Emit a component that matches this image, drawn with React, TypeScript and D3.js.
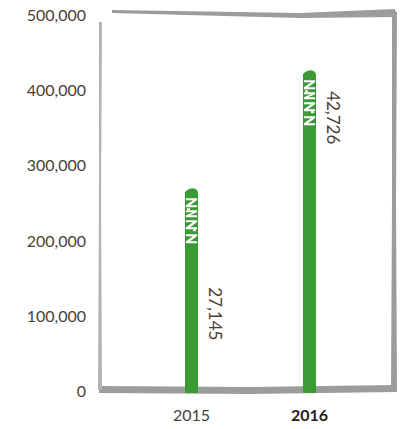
import React from "react";
import * as d3 from "d3";

const years = ["2015", "2016"];
const values = [271000, 428000];
const valueLabels = ["27,145", "42,726"];
const yTicks = [0, 100000, 200000, 300000, 400000, 500000];

const W = 403, H = 429;
const y = d3.scaleLinear().domain([0, 500000]).range([393, 17]);
const x = d3.scalePoint().domain(years).range([191.5, 309.5]);
const fmt = d3.format(",");
const barW = 13;
const green = "#3a9a34";
const gray = "#9c9c9c";
const textColor = "#4a4036";

function Pattern({ cx, top }: { cx: number; top: number }) {
  const l = cx - barW / 2 + 1;
  const w = barW - 2;
  const shapes: string[] = [];
  const rows = [9, 21, 31, 45];
  rows.forEach((dy, i) => {
    const yy = top + dy;
    const h = i === 1 ? 7 : 9;
    shapes.push(`M${l},${yy} L${l + w},${yy} L${l + w},${yy + 2} L${l + 4},${yy + h - 2} L${l + w},${yy + h - 2} L${l + w},${yy + h} L${l},${yy + h} L${l},${yy + h - 2} L${l + w - 4},${yy + 2} L${l},${yy + 2}Z`);
  });
  shapes.push(`M${l + 1},${top + 19} L${l + 4},${top + 19} L${l + 4},${top + 21} L${l + 1},${top + 21}Z`);
  shapes.push(`M${l + 7},${top + 40} L${l + 10},${top + 40} L${l + 10},${top + 42} L${l + 7},${top + 42}Z`);
  return <g>{shapes.map((d, i) => <path key={i} d={d} fill="#fff" />)}</g>;
}

export default function App() {
  const font = "Lato, 'Open Sans', sans-serif";
  return (
    <svg width={W} height={H} style={{ display: "block", position: "absolute", left: 0, top: 0 }}>
      {/* rough frame */}
      <path d="M112,10 L300,13 L395,9 L397,17 L300,18 L112,13 Z" fill={gray} />
      <path d="M392,12 L397,12 L396,200 L397,392 L391,392 L392,200 Z" fill={gray} />
      <path d="M99,386 L250,387 L396,385 L396,392 L250,394 L99,393 Z" fill={gray} />
      <path d="M99,22 L102,22 L101,200 L102,390 L98,390 L99,200 Z" fill="#b3b3b3" />
      {yTicks.map((t) => (
        <text key={t} x={86} y={y(t)} textAnchor="end" dominantBaseline="middle"
          fontFamily={font} fontWeight={400} fontSize={16} fill={textColor}>
          {fmt(t)}
        </text>
      ))}
      {years.map((yr, i) => {
        const cx = x(yr)!;
        const top = y(values[i]);
        const l = cx - barW / 2;
        return (
          <g key={yr}>
            <path d={`M${l},${y(0)} L${l},${top + 3} Q${l + 3},${top - 1} ${cx + 2},${top - 1} Q${l + barW},${top} ${l + barW},${top + 4} L${l + barW},${y(0)} Z`} fill={green} />
            <Pattern cx={cx} top={top} />
            <text transform={`translate(${cx + 22},${top + (i === 0 ? 98 : 20)}) rotate(90)`}
              fontFamily={font} fontWeight={400} fontSize={17} fill={textColor}
              dominantBaseline="middle">
              {valueLabels[i]}
            </text>
            <text x={cx} y={421} textAnchor="middle" fontFamily={font}
              fontWeight={i === 1 ? 700 : 400} fontSize={16} fill={i === 1 ? "#231b14" : textColor}>
              {yr}
            </text>
          </g>
        );
      })}
    </svg>
  );
}
